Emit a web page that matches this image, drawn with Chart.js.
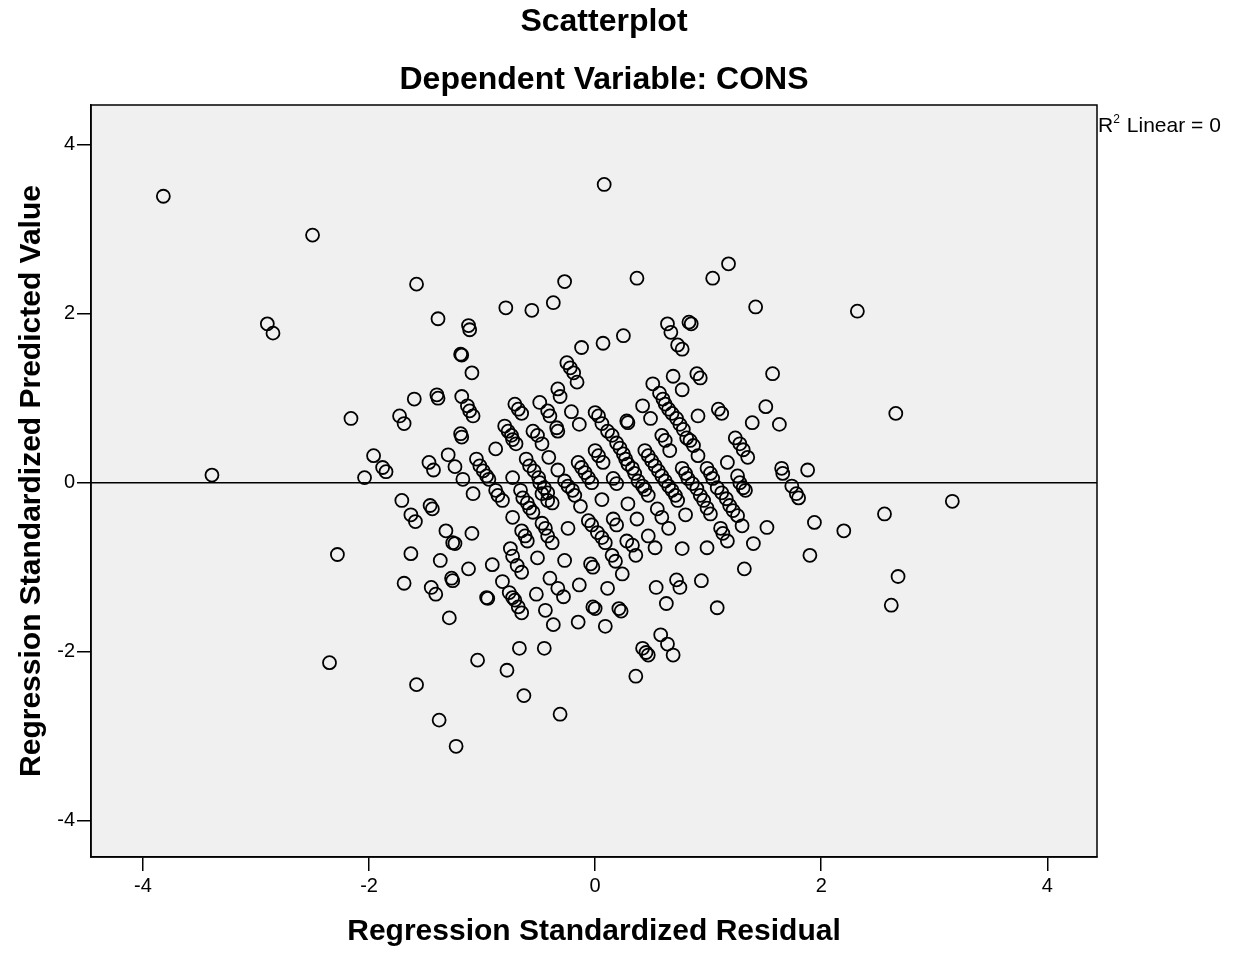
<!DOCTYPE html>
<html>
<head>
<meta charset="utf-8">
<script src="https://cdn.jsdelivr.net/npm/chart.js@4.4.0/dist/chart.umd.min.js"></script>
<style>
  html, body { margin: 0; padding: 0; background: #fff; }
</style>
</head>
<body>
<canvas id="scatter" width="1247" height="955"></canvas>
<script>
// ---- data (one value per case, same order in both arrays) ----
const residuals = [
  // far left / left side
  -3.82,-3.39,-2.50,-2.90,-2.85,-2.16,-2.28,-2.35,-2.04,-1.96,-1.88,-1.85,-1.58,-1.39,-1.60,-1.40,-1.39,
  -1.73,-1.69,-1.47,-1.43,-1.71,-1.63,-1.59,-1.46,-1.44,-1.63,-1.69,-1.45,-1.41,-1.58,-1.38,-1.23,
  // upper left-centre
  -1.12,-1.11,-1.19,-1.18,-1.09,-0.79,-0.56,-0.37,-1.18,-0.33,-0.31,
  // upper right-centre
  0.08,-0.27,0.37,1.04,1.18,0.64,0.67,0.83,0.85,0.73,0.77,-0.12,0.07,0.25,-0.25,-0.22,-0.19,-0.16,0.69,0.77,0.90,0.93,0.51,0.57,0.60,
  // right side
  1.42,2.32,1.57,1.63,2.66,1.65,1.66,1.88,1.74,1.78,1.80,1.94,2.20,2.56,1.90,1.32,2.68,2.62,3.16,
  // central band, left half
  -1.13,-1.11,-1.08,-0.71,-0.68,-0.65,-0.49,-0.42,-0.40,-0.21,
  -0.14,0.00,0.03,0.06,-1.19,-1.18,-0.80,-0.77,-0.74,-0.73,
  -0.70,-0.55,-0.51,-0.47,-0.34,-0.33,-0.88,-1.30,-1.24,-1.17,
  -1.05,-1.02,-0.99,-0.96,-0.94,-0.61,-0.58,-0.54,-0.50,-0.49,
  -0.45,-0.42,-0.73,-0.41,-0.33,-0.15,-0.12,-0.09,-0.06,-0.03,
  0.00,0.03,0.07,-0.27,-0.24,-0.20,-0.18,-1.08,-0.88,-0.86,
  -0.82,-0.66,-0.64,-0.60,-0.58,-0.55,-0.47,-0.42,-0.38,-0.13,
  0.06,-0.73,-1.32,-1.26,-1.24,-1.09,-0.65,-0.62,-0.60,-0.47,
  -0.44,-0.42,-0.38,-0.24,-0.06,-0.03,0.02,0.06,0.09,-0.75,
  // central band, right half
  0.28,0.29,0.42,0.49,0.62,0.65,0.68,0.72,0.75,0.78,
  0.91,1.09,1.12,1.39,1.51,0.11,0.15,0.19,0.22,0.25,
  0.27,0.29,0.33,0.35,0.38,0.42,0.44,0.47,0.16,0.19,
  0.59,0.62,0.66,0.81,0.84,0.87,0.91,0.44,0.47,0.50,
  0.53,0.56,0.59,0.62,0.65,0.68,0.71,0.77,0.80,0.82,
  0.86,0.90,0.93,0.96,0.99,1.02,0.99,1.02,1.04,1.08,
  1.12,1.16,1.19,1.22,1.26,1.30,1.17,1.24,1.28,1.31,
  1.35,1.26,1.28,1.31,1.33,0.29,0.55,0.59,0.73,0.80,
  0.37,0.16,0.19,0.65,0.47,1.11,1.13,1.17,1.40,1.52,
  0.28,0.33,0.53,0.77,0.99,
  // lower part
  0.15,0.18,0.36,-1.37,-1.12,-0.91,-0.73,-0.69,-0.65,-0.51,
  -1.27,-1.26,-0.96,-0.95,-0.82,-0.76,-0.73,-0.71,-0.68,-0.65,
  -0.52,-0.40,-0.33,-0.28,-0.44,-0.37,-1.29,-0.67,-0.45,-1.04,
  -0.78,-0.63,-0.31,-0.27,-0.14,-0.04,-0.02,0.11,0.24,0.54,
  0.72,0.75,0.94,0.63,1.08,-0.02,0.00,0.21,0.23,-0.15,
  0.09,0.58,0.64,0.69,0.42,0.45,0.47,0.36
];

const predicted = [
  // far left / left side
  3.39,0.09,2.93,1.88,1.77,0.76,-0.85,-2.13,0.06,0.32,0.18,0.13,2.35,1.94,0.99,1.04,1.00,
  0.79,0.70,0.24,0.15,-0.21,-0.38,-0.46,-0.27,-0.31,-0.84,-1.19,-1.24,-1.32,-2.39,-2.81,-3.12,
  // upper left-centre
  1.86,1.81,1.52,1.51,1.30,2.07,2.04,2.13,1.02,1.11,1.02,
  // upper right-centre
  3.53,2.38,2.42,2.42,2.59,1.88,1.78,1.90,1.88,1.63,1.58,1.60,1.65,1.74,1.42,1.36,1.30,1.19,1.26,1.10,1.29,1.24,1.17,1.06,0.99,
  // right side
  2.08,2.03,1.29,0.69,0.82,0.17,0.11,0.15,-0.04,-0.13,-0.18,-0.47,-0.57,-0.37,-0.86,-1.02,-1.11,-1.45,-0.22,
  // central band, left half
  0.91,0.85,0.79,0.93,0.87,0.82,0.95,0.85,0.79,0.84,
  0.69,0.83,0.79,0.70,0.58,0.54,0.67,0.61,0.56,0.51,
  0.46,0.61,0.56,0.46,0.65,0.61,0.40,0.33,0.19,0.04,
  0.28,0.20,0.14,0.08,0.04,0.28,0.20,0.14,0.06,0.00,
  -0.06,-0.12,0.06,0.30,0.15,0.24,0.18,0.12,0.06,0.00,
  0.38,0.32,0.24,0.02,-0.04,-0.09,-0.15,-0.13,-0.09,-0.15,
  -0.21,-0.09,-0.18,-0.24,-0.30,-0.35,-0.13,-0.21,-0.24,-0.28,
  -0.20,-0.41,-0.57,-0.71,-0.72,-0.60,-0.57,-0.63,-0.69,-0.48,
  -0.54,-0.63,-0.71,-0.54,-0.45,-0.50,-0.59,-0.65,-0.71,-0.78,
  // central band, right half
  0.73,0.71,0.91,0.76,0.93,0.87,0.82,0.76,0.69,0.63,
  0.79,0.87,0.82,0.71,0.90,0.61,0.56,0.47,0.41,0.34,
  0.28,0.22,0.17,0.11,0.02,-0.04,-0.08,-0.15,0.05,-0.01,
  0.56,0.50,0.38,0.53,0.50,0.44,0.32,0.38,0.32,0.26,
  0.20,0.14,0.08,0.02,-0.04,-0.09,-0.15,0.17,0.11,0.05,
  -0.01,-0.07,-0.15,-0.21,-0.30,-0.37,0.17,0.11,0.05,-0.06,
  -0.12,-0.19,-0.27,-0.33,-0.39,-0.51,0.24,0.53,0.46,0.39,
  0.30,0.08,0.00,-0.06,-0.09,-0.25,-0.31,-0.41,-0.21,-0.38,
  -0.43,-0.43,-0.50,-0.54,-0.63,-0.54,-0.60,-0.69,-0.72,-0.53,
  -0.69,-0.74,-0.77,-0.78,-0.77,
  // lower part
  -0.86,-0.93,-0.86,-0.92,-1.02,-0.97,-0.87,-0.98,-1.06,-0.89,
  -1.13,-1.16,-1.36,-1.37,-1.17,-1.30,-1.36,-1.39,-1.47,-1.54,
  -1.32,-1.13,-1.25,-1.35,-1.51,-1.68,-1.60,-1.96,-1.96,-2.10,
  -2.22,-2.52,-2.74,-0.92,-1.21,-0.96,-1.00,-1.25,-1.08,-1.24,
  -1.15,-1.24,-1.16,-1.43,-1.48,-1.47,-1.49,-1.49,-1.52,-1.65,
  -1.70,-1.80,-1.91,-2.04,-1.96,-2.01,-2.04,-2.29
];

const tickValues = [-4, -2, 0, 2, 4];
const xRange = [-4.46, 4.44];
const yRange = [-4.43, 4.47];
// linear fit reported by SPSS: R² = 0, flat line through 0
const fitIntercept = 0;
const fitSlope = 0;
const rSquared = 0;

if (residuals.length !== predicted.length) console.warn('length mismatch', residuals.length, predicted.length);

document.addEventListener("DOMContentLoaded", () => {
    Chart.defaults.font.family = '"Liberation Sans", Arial, sans-serif';
    Chart.defaults.color = '#000';

    const cases = residuals.map((r, i) => ({ x: r, y: predicted[i] }));
    const fitLine = xRange.map(x => ({ x: x, y: fitIntercept + fitSlope * x }));

    // grey plot area, frame and the SPSS-style texts
    const spssFrame = {
        id: 'spssFrame',
        beforeDraw(chart) {
            const { ctx, chartArea: a } = chart;
            ctx.save();
            ctx.fillStyle = '#f0f0f0';
            ctx.fillRect(a.left, a.top, a.right - a.left, a.bottom - a.top);
            ctx.restore();
        },
        afterDraw(chart) {
            const { ctx, chartArea: a } = chart;
            ctx.save();
            ctx.strokeStyle = '#000';
            ctx.lineWidth = 1.5;
            ctx.strokeRect(a.left, a.top, a.right - a.left, a.bottom - a.top);

            ctx.fillStyle = '#000';
            ctx.textAlign = 'center';
            ctx.textBaseline = 'middle';
            ctx.font = 'bold 32px "Liberation Sans", Arial, sans-serif';
            ctx.fillText('Scatterplot', 604, 22);
            ctx.fillText('Dependent Variable: CONS', 604, 80);

            // "R² Linear = 0" with a small raised 2
            ctx.textAlign = 'left';
            ctx.textBaseline = 'alphabetic';
            let x = a.right + 1;
            const base = 132;
            ctx.font = '21px "Liberation Sans", Arial, sans-serif';
            ctx.fillText('R', x, base);
            x += ctx.measureText('R').width;
            ctx.font = '12px "Liberation Sans", Arial, sans-serif';
            ctx.fillText('2', x, base - 9);
            x += ctx.measureText('2').width + 7;
            ctx.font = '21px "Liberation Sans", Arial, sans-serif';
            ctx.fillText('Linear = ' + rSquared, x, base);
            ctx.restore();
        }
    };

    new Chart(document.getElementById('scatter'), {
        type: 'scatter',
        data: {
            datasets: [
                {
                    type: 'line',
                    data: fitLine,
                    borderColor: '#000',
                    borderWidth: 1.5,
                    pointRadius: 0,
                    fill: false
                },
                {
                    data: cases,
                    pointStyle: 'circle',
                    pointRadius: 6.5,
                    borderWidth: 1.8,
                    borderColor: '#000',
                    backgroundColor: 'rgba(0,0,0,0)'
                }
            ]
        },
        options: {
            responsive: false,
            animation: false,
            layout: { padding: { top: 105, right: 150, left: 0, bottom: 0 } },
            plugins: { legend: { display: false }, tooltip: { enabled: false } },
            scales: {
                x: {
                    type: 'linear',
                    min: xRange[0],
                    max: xRange[1],
                    afterBuildTicks: s => { s.ticks = tickValues.map(v => ({ value: v })); },
                    afterFit: s => { s.height = 98; },
                    grid: { drawOnChartArea: false, drawTicks: true, tickLength: 14, color: '#000', lineWidth: 1.5 },
                    border: { display: true, color: '#000', width: 1.5 },
                    ticks: { color: '#000', font: { size: 20 }, padding: 3, maxRotation: 0 },
                    title: {
                        display: true,
                        text: 'Regression Standardized Residual',
                        color: '#000',
                        font: { size: 30, weight: 'bold' },
                        padding: { top: 0, bottom: 5 }
                    }
                },
                y: {
                    type: 'linear',
                    min: yRange[0],
                    max: yRange[1],
                    afterBuildTicks: s => { s.ticks = tickValues.map(v => ({ value: v })); },
                    afterFit: s => { s.width = 91; },
                    grid: { drawOnChartArea: false, drawTicks: true, tickLength: 14, color: '#000', lineWidth: 1.5 },
                    border: { display: true, color: '#000', width: 1.5 },
                    ticks: { color: '#000', font: { size: 20 }, padding: 2 },
                    title: {
                        display: true,
                        text: 'Regression Standardized Predicted Value',
                        color: '#000',
                        font: { size: 30, weight: 'bold' },
                        padding: { top: 14, bottom: 0 }
                    }
                }
            }
        },
        plugins: [spssFrame]
    });
});
</script>
</body>
</html>
